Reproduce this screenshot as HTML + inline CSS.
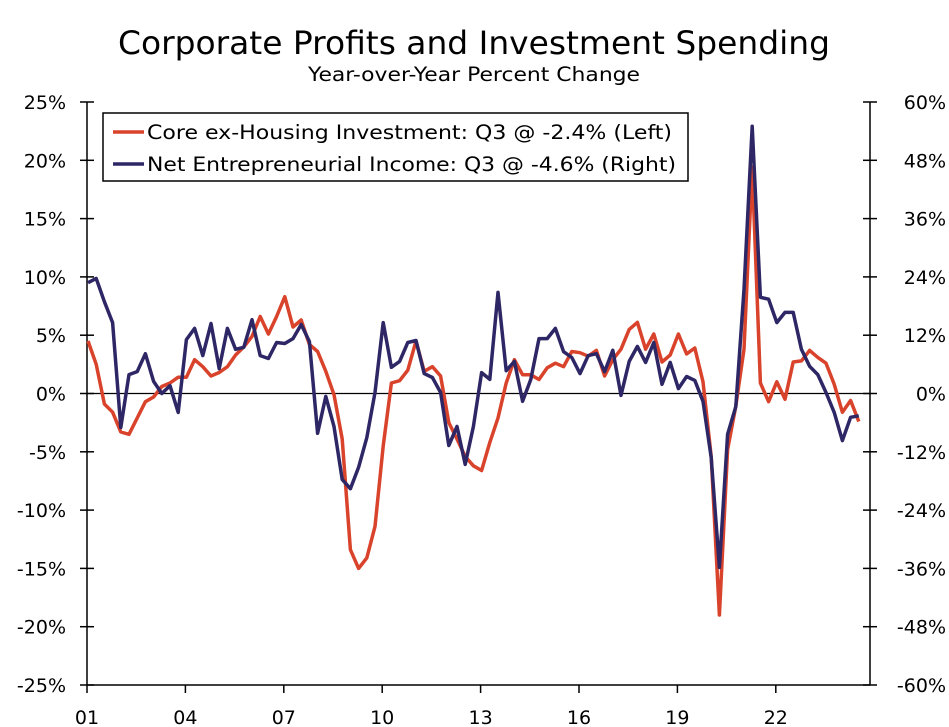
<!DOCTYPE html>
<html><head><meta charset="utf-8">
<style>
body{margin:0;background:#fff;}
svg{display:block;font-family:"DejaVu Sans","Liberation Sans",sans-serif;}
</style></head>
<body>
<svg id="chart" width="949" height="727" viewBox="0 0 949 727" xmlns="http://www.w3.org/2000/svg">
<text x="118" y="54" font-size="32" textLength="712" lengthAdjust="spacingAndGlyphs">Corporate Profits and Investment Spending</text>
<text x="308" y="81" font-size="19.5" textLength="332" lengthAdjust="spacingAndGlyphs">Year-over-Year Percent Change</text>
<g id="axes"></g>
<g id="series"></g>
<g>
<rect x="103" y="113" width="585" height="68" fill="#fff" stroke="#000" stroke-width="1.5"/>
<line x1="113" y1="132" x2="144" y2="132" stroke="#d9432b" stroke-width="3.5"/>
<text x="147" y="139" font-size="19.5" textLength="525" lengthAdjust="spacingAndGlyphs">Core ex-Housing Investment: Q3 @ -2.4% (Left)</text>
<line x1="113" y1="164" x2="144" y2="164" stroke="#2e2766" stroke-width="3.5"/>
<text x="147" y="171" font-size="19.5" textLength="529" lengthAdjust="spacingAndGlyphs">Net Entrepreneurial Income: Q3 @ -4.6% (Right)</text>
</g>
</svg>
<script>
const coreInvestment = [4.5,2.5,-0.9,-1.6,-3.3,-3.5,-2.1,-0.7,-0.3,0.6,0.9,1.4,1.4,2.9,2.3,1.5,1.8,2.3,3.3,4.0,4.9,6.6,5.1,6.6,8.3,5.7,6.3,4.2,3.6,1.9,-0.1,-3.9,-13.4,-15,-14.1,-11.4,-4.5,0.9,1.1,2.0,4.5,1.9,2.3,1.5,-2.5,-3.9,-5.4,-6.2,-6.6,-4.2,-2.1,0.9,2.9,1.6,1.6,1.2,2.2,2.6,2.3,3.6,3.5,3.2,3.7,1.5,2.9,3.8,5.5,6.1,3.8,5.1,2.7,3.3,5.1,3.4,3.9,1.0,-5.4,-19,-4.8,-1.1,3.8,19.4,0.9,-0.7,1.0,-0.5,2.7,2.8,3.7,3.1,2.6,0.8,-1.6,-0.6,-2.4];
const netIncome = [22.8,23.7,18.9,14.6,-7.0,3.9,4.5,8.2,2.5,0,1.6,-3.9,11.1,13.4,7.8,14.4,5.1,13.4,9.1,9.5,15.2,7.8,7.2,10.5,10.3,11.3,14.2,10.7,-8.2,-0.6,-6.8,-17.7,-19.6,-15.2,-9.1,0.2,14.6,5.4,6.6,10.5,10.9,4.1,3.3,0.2,-10.7,-6.8,-14.6,-6.8,4.3,2.9,20.8,4.7,6.6,-1.6,2.9,11.3,11.3,13.4,8.6,7.4,4.1,7.8,8.2,4.5,8.9,-0.4,6.6,9.7,6.4,10.5,1.9,6.4,1.0,3.5,2.7,-1.6,-13.2,-35.8,-8.4,-2.7,21.4,55,19.8,19.4,14.6,16.7,16.7,9.1,5.6,3.9,0.2,-3.9,-9.7,-4.9,-4.6];
const leftTicks = [25,20,15,10,5,0,-5,-10,-15,-20,-25];
const rightTicks = [60,48,36,24,12,0,-12,-24,-36,-48,-60];
const yearLabels = ["01","04","07","10","13","16","19","22"];
const yearValues = [2001,2004,2007,2010,2013,2016,2019,2022];

const X0=87,X1=870,Y0=102,Y1=685;
const xq = i => X0 + 1 + i*8.2;
const xYear = y => X0 + (y-2001)*32.8;
const yL = v => Y1 - (v+25)/50*(Y1-Y0);
const yR = v => Y1 - (v+60)/120*(Y1-Y0);
const NS="http://www.w3.org/2000/svg";
const axes=document.getElementById('axes'), series=document.getElementById('series');
function mk(tag, attrs, parent){const e=document.createElementNS(NS,tag);for(const k in attrs)e.setAttribute(k,attrs[k]);parent.appendChild(e);return e;}

let e=mk('line',{x1:X0,y1:Y0,x2:X0,y2:Y1,stroke:'#000','stroke-width':1.5},axes);


e=mk('line',{x1:X1,y1:Y0,x2:X1,y2:Y1,stroke:'#000','stroke-width':1.5},axes);


e=mk('line',{x1:X0,y1:Y1,x2:X1,y2:Y1,stroke:'#000','stroke-width':1.5},axes);


e=mk('line',{x1:X0,y1:yL(0),x2:X1,y2:yL(0),stroke:'#000','stroke-width':1.2},axes);



leftTicks.forEach(v=>{
  const y=yL(v);
  let t=mk('line',{x1:X0-7,y1:y,x2:X0+7,y2:y,stroke:'#000','stroke-width':1.5},axes);
  
  
  let l=mk('text',{x:66,y:y+7,'text-anchor':'end','font-size':19},axes);
  l.textContent=v+'%';
  
  
});
rightTicks.forEach(v=>{
  const y=yR(v);
  let t=mk('line',{x1:X1-7,y1:y,x2:X1+7,y2:y,stroke:'#000','stroke-width':1.5},axes);
  
  
  let l=mk('text',{x:946,y:y+7,'text-anchor':'end','font-size':19},axes);
  l.textContent=v+'%';
  
  
});
yearValues.forEach((yv,i)=>{
  const x=xYear(yv);
  let t=mk('line',{x1:x,y1:Y1,x2:x,y2:Y1+8,stroke:'#000','stroke-width':1.5},axes);
  
  
  let l=mk('text',{x:x,y:724,'text-anchor':'middle','font-size':19},axes);
  l.textContent=yearLabels[i];
  
  
});
function line(data, yf, color, name){
  const pts=data.map((v,i)=>xq(i).toFixed(1)+','+yf(v).toFixed(1)).join(' ');
  const p=mk('polyline',{points:pts,fill:'none',stroke:color,'stroke-width':3.5,'stroke-linejoin':'round'},series);
  
  
}
line(coreInvestment,yL,'#d9432b','core-investment-line');
line(netIncome,yR,'#2e2766','net-income-line');
</script>
</body></html>
